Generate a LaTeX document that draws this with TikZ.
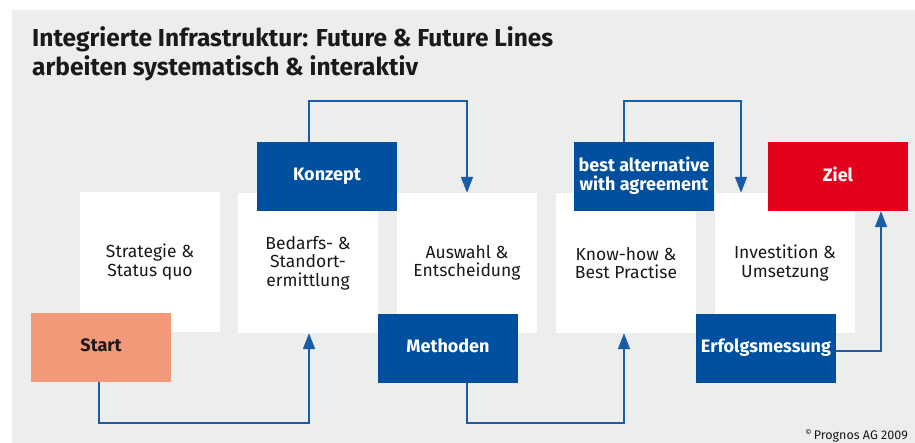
\documentclass[tikz,border=0pt]{standalone}
\usepackage{fontspec}
\setmainfont{Fira Sans}
\usetikzlibrary{arrows.meta}
\definecolor{bggray}{HTML}{ECEDED}
\definecolor{pblue}{HTML}{00509F}
\definecolor{pline}{HTML}{1A5CA8}
\definecolor{pred}{HTML}{E2001A}
\definecolor{psalmon}{HTML}{F2997A}
\definecolor{txt}{HTML}{1A1A1A}
\begin{document}
\begin{tikzpicture}[x=1pt,y=-1pt,
  wbox/.style={fill=white, minimum width=140pt, minimum height=140pt, inner sep=0pt, align=center, text=txt, font=\fontsize{17.5}{18.5}\selectfont},
  cbox/.style={fill=pblue, minimum width=140pt, minimum height=69pt, inner sep=0pt, align=center, text=white, text depth=5pt, font=\bfseries\fontsize{18}{19}\selectfont},
  conn/.style={draw=pline, line width=1.6pt, -{Triangle[length=16pt,width=12pt]}},
  ttl/.style={anchor=base west, inner sep=0pt, text=txt, font=\bfseries\fontsize{24.5}{29}\selectfont}
]
\useasboundingbox (0,0) rectangle (915,443);
\fill[white] (0,0) rectangle (915,443);
\fill[bggray] (12,10) rectangle (915,443);

\node[ttl] (title1) at (32,47) {Integrierte Infrastruktur: Future \& Future Lines};
\node[ttl] (title2) at (32,76) {arbeiten systematisch \& interaktiv};

% white step boxes
\node[wbox] (strat) at (150,262) {Strategie \&\\Status quo};
\node[wbox] (bedarfs) at (308,263) {Bedarfs- \&\\Standort-\\ermittlung};
\node[wbox] (auswahl) at (467,263) {Auswahl \&\\Entscheidung};
\node[wbox] (knowhow) at (626,263) {Know-how \&\\Best Practise};
\node[wbox] (invest) at (785,263) {Investition \&\\Umsetzung};

% coloured boxes
\node[cbox, fill=psalmon, text=txt] (start) at (101,347.5) {Start};
\node[cbox] (konzept) at (327,176.5) {Konzept};
\node[cbox] (methoden) at (448,348.5) {Methoden};
\node[cbox] (best) at (644,176.5) {best alternative\\with agreement};
\node[cbox, fill=pred] (ziel) at (838,176.5) {Ziel};
\node[cbox] (erfolg) at (766,348.5) {Erfolgsmessung};

% bend points
\coordinate (b1) at (99,423);  \coordinate (b2) at (309,423);
\coordinate (k1) at (309,101); \coordinate (k2) at (467,101);
\coordinate (m1) at (467,423); \coordinate (m2) at (624,423);
\coordinate (a1) at (624,101); \coordinate (a2) at (741,101);
\coordinate (e1) at (881,351);

\draw[conn] (start.south -| b1) -- (b1) -- (b2) -- (bedarfs.south -| b2);
\draw[conn] (konzept.north -| k1) -- (k1) -- (k2) -- (auswahl.north -| k2);
\draw[conn] (methoden.south -| m1) -- (m1) -- (m2) -- (knowhow.south -| m2);
\draw[conn] (best.north -| a1) -- (a1) -- (a2) -- (invest.north -| a2);
\draw[conn] (erfolg.east |- e1) -- (e1) -- (ziel.south -| e1);

\node[anchor=base east, inner sep=0pt, text=txt, font=\fontsize{12.5}{13}\selectfont] (copy) at (908,439) {\raisebox{3.5pt}{\fontsize{8}{8}\selectfont\textcopyright}\,Prognos AG 2009};
\end{tikzpicture}
\end{document}
